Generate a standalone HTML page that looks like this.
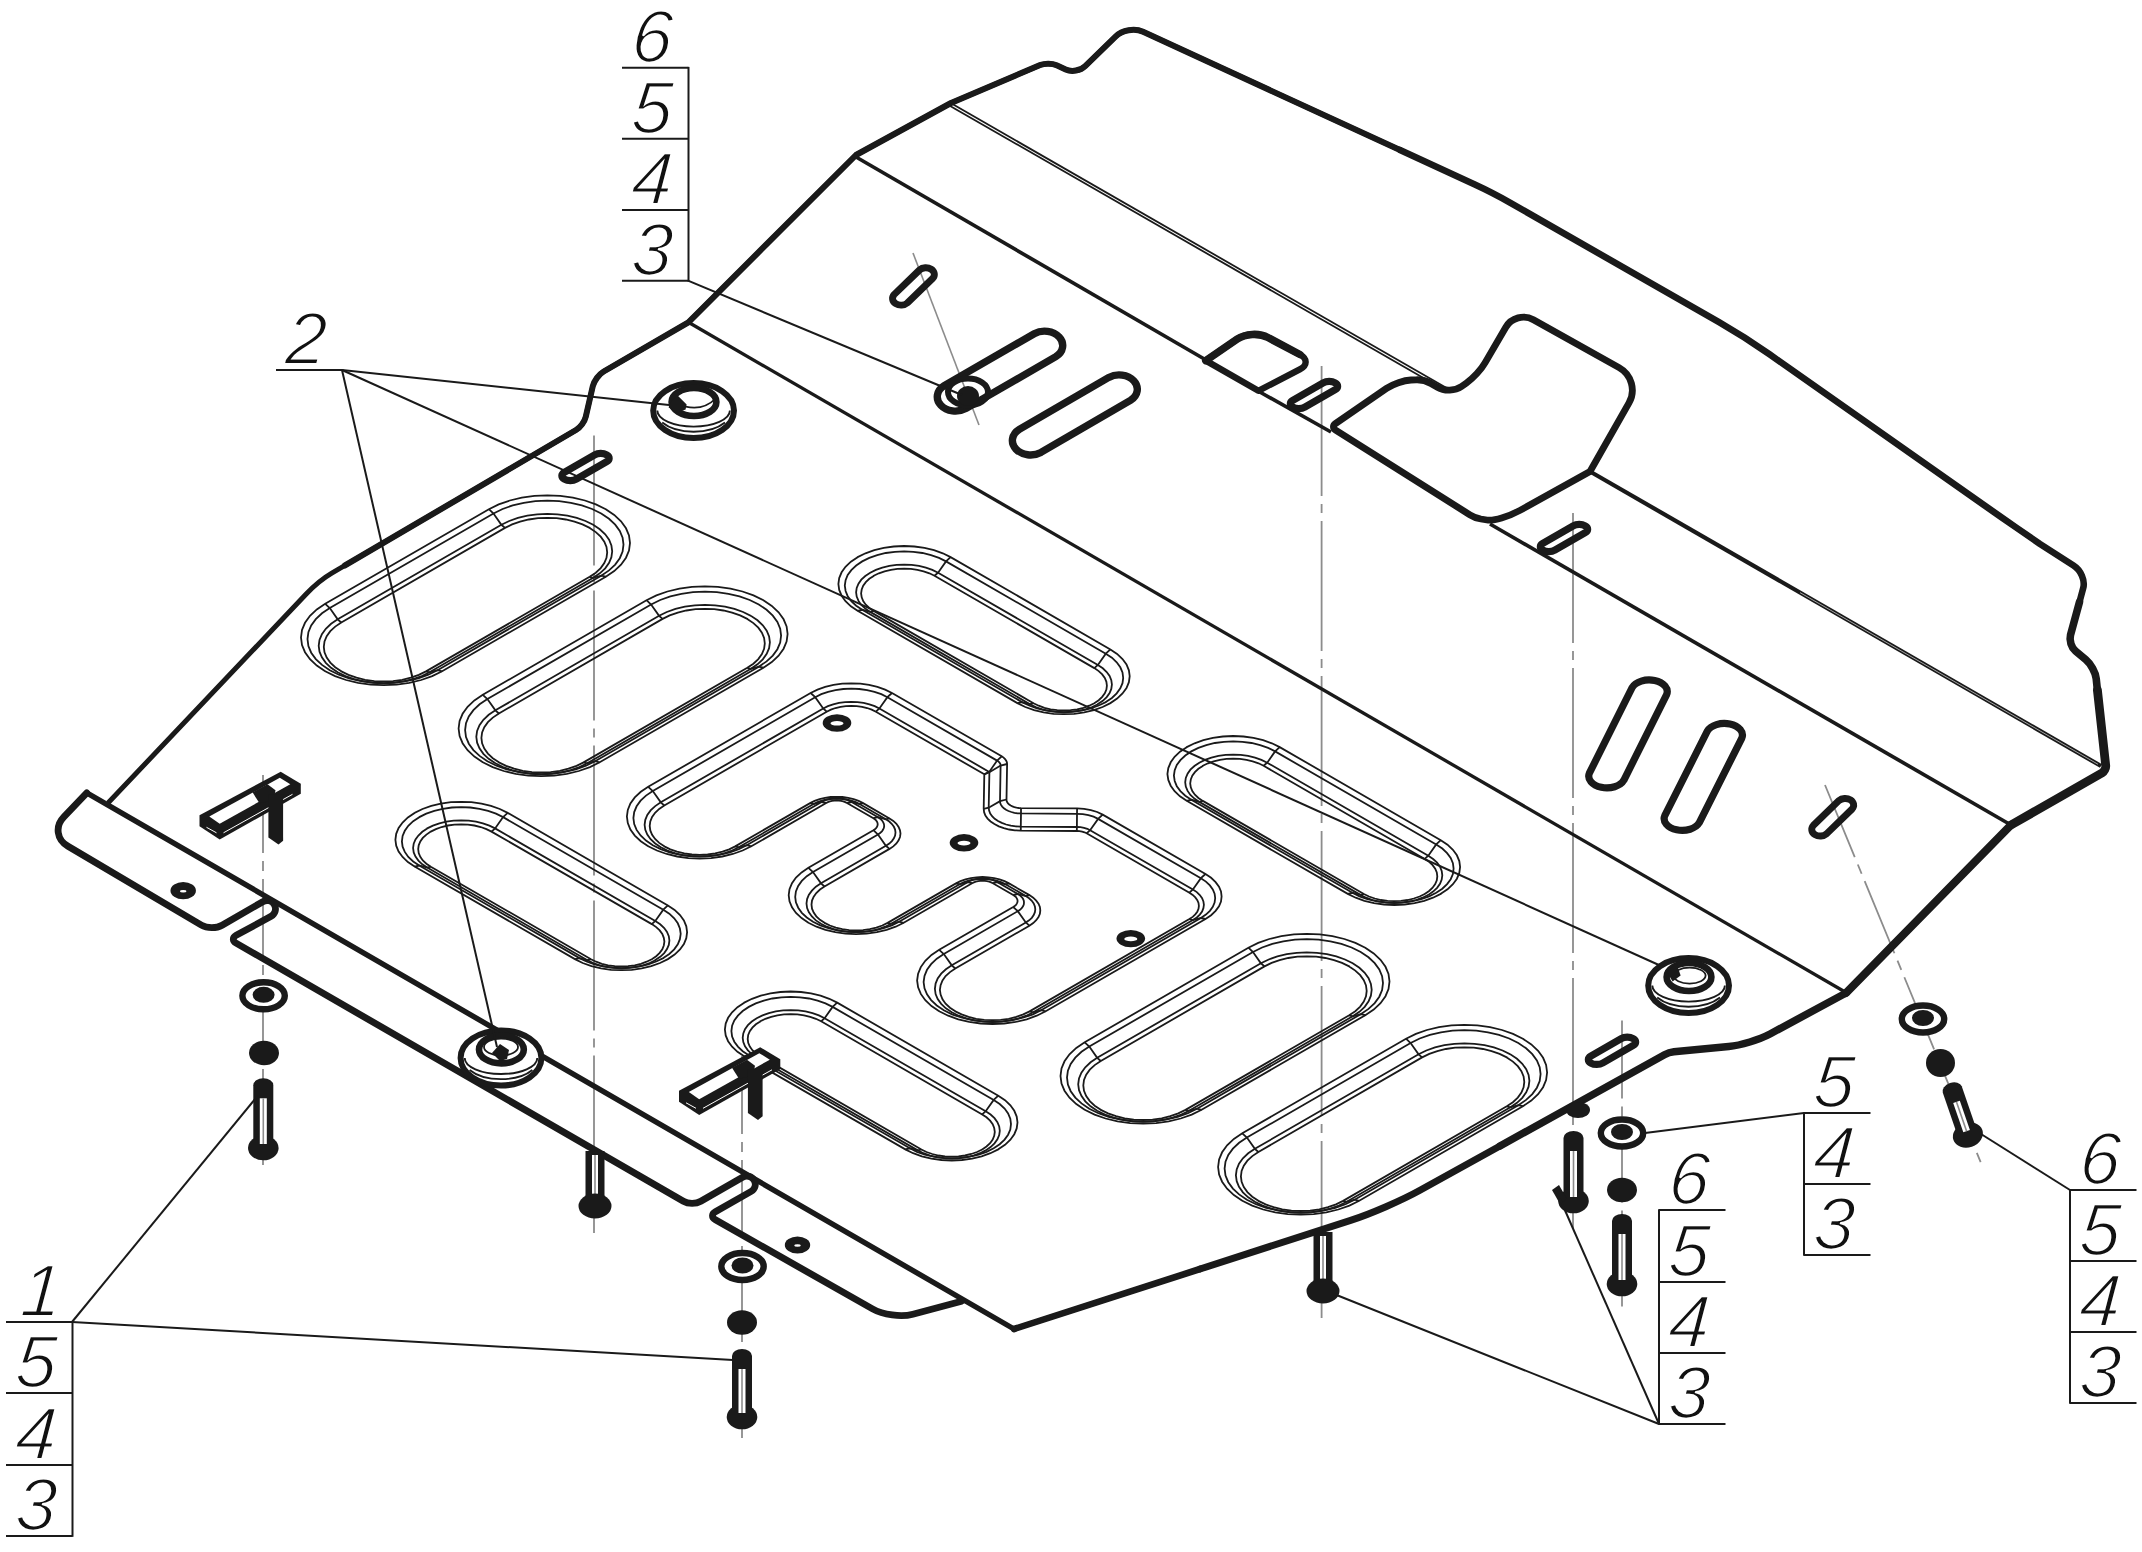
<!DOCTYPE html>
<html><head><meta charset="utf-8"><title>Drawing</title>
<style>
html,body{margin:0;padding:0;background:#fff}
svg{display:block}
text{font-family:"Liberation Sans","DejaVu Sans",sans-serif;font-style:italic;font-size:74px;text-anchor:middle;fill:#111;stroke:#fff;stroke-width:2.1px}
</style></head><body>
<svg width="2142" height="1552" viewBox="0 0 2142 1552" stroke-linecap="butt">
<rect width="2142" height="1552" fill="#fff"/>
<path d="M263 775L263 1168" fill="none" stroke="#8c8c8c" stroke-width="1.8" stroke-dasharray="78 8 10 8" stroke-dashoffset="0"/>
<path d="M594 435.5L594 1233" fill="none" stroke="#8c8c8c" stroke-width="1.8" stroke-dasharray="130 8 9 8" stroke-dashoffset="0"/>
<path d="M742 1056L742 1438" fill="none" stroke="#8c8c8c" stroke-width="1.8" stroke-dasharray="78 8 10 8" stroke-dashoffset="0"/>
<path d="M1321.6 366L1321.6 1318" fill="none" stroke="#8c8c8c" stroke-width="1.8" stroke-dasharray="130 8 9 8" stroke-dashoffset="0"/>
<path d="M1573 513L1573 1228" fill="none" stroke="#8c8c8c" stroke-width="1.8" stroke-dasharray="130 8 9 8" stroke-dashoffset="0"/>
<path d="M1622 1020.5L1622 1313" fill="none" stroke="#8c8c8c" stroke-width="1.8" stroke-dasharray="78 8 10 8" stroke-dashoffset="0"/>
<path d="M913 253L979 425" fill="none" stroke="#8c8c8c" stroke-width="1.6" />
<path d="M1825 785L1981 1163" fill="none" stroke="#8c8c8c" stroke-width="1.8" stroke-dasharray="78 8 10 8" stroke-dashoffset="0"/>
<path d="M325.2 671.2 L316.8 665.6 L310 659.2 L305 652.2 L302 645 L301 637.5 L302 630 L305 622.8 L310 615.8 L316.8 609.4 L325.2 603.8 L488.9 509.2 L498.7 504.4 L509.8 500.5 L521.8 497.6 L534.4 495.9 L547.3 495.3 L560.3 495.9 L572.9 497.6 L584.9 500.5 L595.9 504.4 L605.8 509.2 L605.8 509.3 L614.2 514.9 L621 521.3 L626 528.3 L629 535.5 L630 543 L629 550.5 L626 557.7 L621 564.7 L614.2 571.1 L605.8 576.7 L442.1 671.3 L432.2 676.1 L421.2 680 L409.2 682.9 L396.6 684.6 L383.6 685.2 L370.7 684.6 L358.1 682.9 L346.1 680 L335.1 676.1 L325.2 671.3Z" fill="none" stroke="#1a1a1a" stroke-width="1.8" />
<path d="M329.8 670.2 L322 664.9 L315.8 659.1 L311.2 652.7 L308.4 646 L307.5 639.1 L308.4 632.2 L311.2 625.5 L315.8 619.1 L322 613.3 L329.8 608 L493.5 513.5 L502.6 509 L512.7 505.4 L523.8 502.8 L535.4 501.2 L547.3 500.6 L559.2 501.2 L570.9 502.8 L581.9 505.4 L592.1 509 L601.2 513.5 L601.2 513.5 L609 518.8 L615.2 524.6 L619.8 531 L622.6 537.7 L623.5 544.6 L622.6 551.5 L619.8 558.2 L615.2 564.6 L609 570.4 L601.2 575.7 L437.5 670.2 L428.4 674.7 L418.2 678.3 L407.2 680.9 L395.6 682.5 L383.6 683.1 L371.7 682.5 L360.1 680.9 L349.1 678.3 L338.9 674.7 L329.8 670.2Z" fill="none" stroke="#1a1a1a" stroke-width="1.8" />
<path d="M337.7 672.3 L331.1 667.8 L325.8 662.8 L321.9 657.4 L319.5 651.7 L318.7 645.8 L319.5 639.9 L321.9 634.2 L325.8 628.8 L331.1 623.8 L337.7 619.3 L501.4 524.8 L509.2 521 L517.9 517.9 L527.3 515.7 L537.2 514.3 L547.3 513.8 L557.5 514.3 L567.4 515.7 L576.8 517.9 L585.5 521 L593.2 524.8 L593.2 524.8 L599.8 529.3 L605.2 534.3 L609.1 539.7 L611.4 545.4 L612.2 551.3 L611.4 557.2 L609.1 562.9 L605.2 568.3 L599.8 573.3 L593.2 577.8 L429.5 672.3 L421.8 676.1 L413.1 679.2 L403.7 681.4 L393.8 682.8 L383.6 683.3 L373.5 682.8 L363.6 681.4 L354.2 679.2 L345.5 676.1 L337.8 672.3Z" fill="none" stroke="#1a1a1a" stroke-width="1.8" />
<path d="M341.3 671.3 L335.2 667.2 L330.3 662.6 L326.7 657.6 L324.5 652.3 L323.8 646.9 L324.5 641.5 L326.7 636.2 L330.3 631.2 L335.2 626.6 L341.3 622.5 L505 527.9 L512.1 524.4 L520.1 521.6 L528.8 519.5 L538 518.2 L547.3 517.8 L556.7 518.2 L565.8 519.5 L574.5 521.6 L582.5 524.4 L589.7 527.9 L589.7 528 L595.8 532.1 L600.7 536.7 L604.3 541.7 L606.5 547 L607.2 552.4 L606.5 557.8 L604.3 563.1 L600.7 568.1 L595.8 572.7 L589.7 576.8 L426 671.4 L418.8 674.9 L410.8 677.7 L402.2 679.8 L393 681.1 L383.6 681.5 L374.3 681.1 L365.1 679.8 L356.5 677.7 L348.5 674.9 L341.3 671.4Z" fill="none" stroke="#1a1a1a" stroke-width="1.8" />
<path d="M325.2 603.8 L329.8 608 L337.7 619.3 L341.3 622.5" fill="none" stroke="#1a1a1a" stroke-width="1.8" />
<path d="M488.9 509.2 L493.5 513.5 L501.4 524.8 L505 527.9" fill="none" stroke="#1a1a1a" stroke-width="1.8" />
<path d="M605.8 576.7 L601.2 575.7 L593.2 577.8 L589.7 576.8" fill="none" stroke="#1a1a1a" stroke-width="1.8" />
<path d="M442.1 671.3 L437.5 670.2 L429.5 672.3 L426 671.4" fill="none" stroke="#1a1a1a" stroke-width="1.8" />
<path d="M482.8 762.2 L474.4 756.6 L467.6 750.2 L462.6 743.2 L459.6 736 L458.6 728.5 L459.6 721 L462.6 713.8 L467.6 706.8 L474.4 700.4 L482.8 694.8 L646.5 600.2 L656.4 595.4 L667.4 591.5 L679.4 588.6 L692 586.9 L704.9 586.3 L717.9 586.9 L730.5 588.6 L742.5 591.5 L753.5 595.4 L763.4 600.2 L763.4 600.3 L771.8 605.9 L778.6 612.3 L783.6 619.3 L786.6 626.5 L787.6 634 L786.6 641.5 L783.6 648.7 L778.6 655.7 L771.8 662.1 L763.4 667.7 L599.7 762.3 L589.9 767.1 L578.8 771 L566.8 773.9 L554.2 775.6 L541.3 776.2 L528.3 775.6 L515.7 773.9 L503.7 771 L492.7 767.1 L482.8 762.3Z" fill="none" stroke="#1a1a1a" stroke-width="1.8" />
<path d="M487.4 761.2 L479.6 755.9 L473.4 750.1 L468.8 743.7 L466 737 L465.1 730.1 L466 723.2 L468.8 716.5 L473.4 710.1 L479.6 704.3 L487.4 699 L651.1 604.5 L660.2 600 L670.4 596.4 L681.4 593.8 L693 592.2 L704.9 591.6 L716.9 592.2 L728.5 593.8 L739.5 596.4 L749.7 600 L758.8 604.5 L758.8 604.5 L766.6 609.8 L772.8 615.6 L777.4 622 L780.2 628.7 L781.1 635.6 L780.2 642.5 L777.4 649.2 L772.8 655.6 L766.6 661.4 L758.8 666.7 L595.1 761.2 L586 765.7 L575.8 769.3 L564.8 771.9 L553.2 773.5 L541.3 774.1 L529.4 773.5 L517.7 771.9 L506.7 769.3 L496.5 765.7 L487.4 761.2Z" fill="none" stroke="#1a1a1a" stroke-width="1.8" />
<path d="M495.4 763.3 L488.7 758.8 L483.4 753.8 L479.5 748.4 L477.1 742.7 L476.3 736.8 L477.1 730.9 L479.5 725.2 L483.4 719.8 L488.7 714.8 L495.4 710.3 L659.1 615.8 L666.8 612 L675.5 608.9 L684.9 606.7 L694.8 605.3 L704.9 604.8 L715.1 605.3 L725 606.7 L734.4 608.9 L743.1 612 L750.8 615.8 L750.9 615.8 L757.5 620.3 L762.8 625.3 L766.7 630.7 L769.1 636.4 L769.9 642.3 L769.1 648.2 L766.7 653.9 L762.8 659.3 L757.5 664.3 L750.9 668.8 L587.2 763.3 L579.4 767.1 L570.7 770.2 L561.3 772.4 L551.4 773.8 L541.3 774.3 L531.1 773.8 L521.2 772.4 L511.8 770.2 L503.1 767.1 L495.4 763.3Z" fill="none" stroke="#1a1a1a" stroke-width="1.8" />
<path d="M498.9 762.3 L492.8 758.2 L487.9 753.6 L484.3 748.6 L482.1 743.3 L481.4 737.9 L482.1 732.5 L484.3 727.2 L487.9 722.2 L492.8 717.6 L498.9 713.5 L662.6 618.9 L669.7 615.4 L677.8 612.6 L686.4 610.5 L695.6 609.2 L704.9 608.8 L714.3 609.2 L723.4 610.5 L732.1 612.6 L740.1 615.4 L747.3 618.9 L747.3 619 L753.4 623.1 L758.3 627.7 L761.9 632.7 L764.1 638 L764.8 643.4 L764.1 648.8 L761.9 654.1 L758.3 659.1 L753.4 663.7 L747.3 667.8 L583.6 762.4 L576.5 765.9 L568.4 768.7 L559.8 770.8 L550.6 772.1 L541.3 772.5 L531.9 772.1 L522.8 770.8 L514.1 768.7 L506.1 765.9 L498.9 762.4Z" fill="none" stroke="#1a1a1a" stroke-width="1.8" />
<path d="M482.8 694.8 L487.4 699 L495.4 710.3 L498.9 713.5" fill="none" stroke="#1a1a1a" stroke-width="1.8" />
<path d="M646.5 600.2 L651.1 604.5 L659.1 615.8 L662.6 618.9" fill="none" stroke="#1a1a1a" stroke-width="1.8" />
<path d="M763.4 667.7 L758.8 666.7 L750.9 668.8 L747.3 667.8" fill="none" stroke="#1a1a1a" stroke-width="1.8" />
<path d="M599.7 762.3 L595.1 761.2 L587.2 763.3 L583.6 762.4" fill="none" stroke="#1a1a1a" stroke-width="1.8" />
<path d="M1084.7 1109.7 L1076.3 1104.1 L1069.5 1097.7 L1064.5 1090.7 L1061.5 1083.5 L1060.5 1076 L1061.5 1068.5 L1064.5 1061.3 L1069.5 1054.3 L1076.3 1047.9 L1084.7 1042.3 L1248.4 947.7 L1258.2 942.9 L1269.3 939 L1281.3 936.1 L1293.9 934.4 L1306.8 933.8 L1319.8 934.4 L1332.4 936.1 L1344.4 939 L1355.4 942.9 L1365.3 947.7 L1365.3 947.8 L1373.7 953.4 L1380.5 959.8 L1385.5 966.8 L1388.5 974 L1389.5 981.5 L1388.5 989 L1385.5 996.2 L1380.5 1003.2 L1373.7 1009.6 L1365.3 1015.2 L1201.6 1109.8 L1191.7 1114.6 L1180.7 1118.5 L1168.7 1121.4 L1156.1 1123.1 L1143.2 1123.7 L1130.2 1123.1 L1117.6 1121.4 L1105.6 1118.5 L1094.6 1114.6 L1084.7 1109.8Z" fill="none" stroke="#1a1a1a" stroke-width="1.8" />
<path d="M1089.3 1108.7 L1081.5 1103.4 L1075.3 1097.6 L1070.7 1091.2 L1067.9 1084.5 L1067 1077.6 L1067.9 1070.7 L1070.7 1064 L1075.3 1057.6 L1081.5 1051.8 L1089.3 1046.5 L1253 952 L1262.1 947.5 L1272.3 943.9 L1283.3 941.3 L1294.9 939.7 L1306.8 939.1 L1318.7 939.7 L1330.4 941.3 L1341.4 943.9 L1351.6 947.5 L1360.7 952 L1360.7 952 L1368.5 957.3 L1374.7 963.1 L1379.3 969.5 L1382.1 976.2 L1383 983.1 L1382.1 990 L1379.3 996.7 L1374.7 1003.1 L1368.5 1008.9 L1360.7 1014.2 L1197 1108.7 L1187.9 1113.2 L1177.7 1116.8 L1166.7 1119.4 L1155.1 1121 L1143.2 1121.6 L1131.2 1121 L1119.6 1119.4 L1108.6 1116.8 L1098.4 1113.2 L1089.3 1108.7Z" fill="none" stroke="#1a1a1a" stroke-width="1.8" />
<path d="M1097.2 1110.8 L1090.6 1106.3 L1085.3 1101.3 L1081.4 1095.9 L1079 1090.2 L1078.2 1084.3 L1079 1078.4 L1081.4 1072.7 L1085.3 1067.3 L1090.6 1062.3 L1097.2 1057.8 L1260.9 963.3 L1268.7 959.5 L1277.4 956.4 L1286.8 954.2 L1296.7 952.8 L1306.8 952.3 L1317 952.8 L1326.9 954.2 L1336.3 956.4 L1345 959.5 L1352.7 963.3 L1352.7 963.3 L1359.4 967.8 L1364.7 972.8 L1368.6 978.2 L1370.9 983.9 L1371.7 989.8 L1370.9 995.7 L1368.6 1001.4 L1364.7 1006.8 L1359.4 1011.8 L1352.7 1016.3 L1189 1110.8 L1181.3 1114.6 L1172.6 1117.7 L1163.2 1119.9 L1153.3 1121.3 L1143.2 1121.8 L1133 1121.3 L1123.1 1119.9 L1113.7 1117.7 L1105 1114.6 L1097.3 1110.8Z" fill="none" stroke="#1a1a1a" stroke-width="1.8" />
<path d="M1100.8 1109.8 L1094.7 1105.7 L1089.8 1101.1 L1086.2 1096.1 L1084 1090.8 L1083.3 1085.4 L1084 1080 L1086.2 1074.7 L1089.8 1069.7 L1094.7 1065.1 L1100.8 1061 L1264.5 966.4 L1271.6 962.9 L1279.6 960.1 L1288.3 958 L1297.5 956.7 L1306.8 956.3 L1316.2 956.7 L1325.3 958 L1334 960.1 L1342 962.9 L1349.2 966.4 L1349.2 966.5 L1355.3 970.6 L1360.2 975.2 L1363.8 980.2 L1366 985.5 L1366.7 990.9 L1366 996.3 L1363.8 1001.6 L1360.2 1006.6 L1355.3 1011.2 L1349.2 1015.3 L1185.5 1109.9 L1178.3 1113.4 L1170.3 1116.2 L1161.7 1118.3 L1152.5 1119.6 L1143.2 1120 L1133.8 1119.6 L1124.7 1118.3 L1116 1116.2 L1108 1113.4 L1100.8 1109.9Z" fill="none" stroke="#1a1a1a" stroke-width="1.8" />
<path d="M1084.7 1042.3 L1089.3 1046.5 L1097.2 1057.8 L1100.8 1061" fill="none" stroke="#1a1a1a" stroke-width="1.8" />
<path d="M1248.4 947.7 L1253 952 L1260.9 963.3 L1264.5 966.4" fill="none" stroke="#1a1a1a" stroke-width="1.8" />
<path d="M1365.3 1015.2 L1360.7 1014.2 L1352.7 1016.3 L1349.2 1015.3" fill="none" stroke="#1a1a1a" stroke-width="1.8" />
<path d="M1201.6 1109.8 L1197 1108.7 L1189 1110.8 L1185.5 1109.9" fill="none" stroke="#1a1a1a" stroke-width="1.8" />
<path d="M1242.3 1200.7 L1233.9 1195.1 L1227.1 1188.7 L1222.1 1181.7 L1219.1 1174.5 L1218.1 1167 L1219.1 1159.5 L1222.1 1152.3 L1227.1 1145.3 L1233.9 1138.9 L1242.3 1133.3 L1406 1038.7 L1415.9 1033.9 L1426.9 1030 L1438.9 1027.1 L1451.5 1025.4 L1464.4 1024.8 L1477.4 1025.4 L1490 1027.1 L1502 1030 L1513 1033.9 L1522.9 1038.7 L1522.9 1038.8 L1531.3 1044.4 L1538.1 1050.8 L1543.1 1057.8 L1546.1 1065 L1547.1 1072.5 L1546.1 1080 L1543.1 1087.2 L1538.1 1094.2 L1531.3 1100.6 L1522.9 1106.2 L1359.2 1200.8 L1349.4 1205.6 L1338.3 1209.5 L1326.3 1212.4 L1313.7 1214.1 L1300.8 1214.7 L1287.8 1214.1 L1275.2 1212.4 L1263.2 1209.5 L1252.2 1205.6 L1242.3 1200.8Z" fill="none" stroke="#1a1a1a" stroke-width="1.8" />
<path d="M1246.9 1199.7 L1239.1 1194.4 L1232.9 1188.6 L1228.3 1182.2 L1225.5 1175.5 L1224.6 1168.6 L1225.5 1161.7 L1228.3 1155 L1232.9 1148.6 L1239.1 1142.8 L1246.9 1137.5 L1410.6 1043 L1419.7 1038.5 L1429.9 1034.9 L1440.9 1032.3 L1452.5 1030.7 L1464.4 1030.1 L1476.4 1030.7 L1488 1032.3 L1499 1034.9 L1509.2 1038.5 L1518.3 1043 L1518.3 1043 L1526.1 1048.3 L1532.3 1054.1 L1536.9 1060.5 L1539.7 1067.2 L1540.6 1074.1 L1539.7 1081 L1536.9 1087.7 L1532.3 1094.1 L1526.1 1099.9 L1518.3 1105.2 L1354.6 1199.7 L1345.5 1204.2 L1335.3 1207.8 L1324.3 1210.4 L1312.7 1212 L1300.8 1212.6 L1288.9 1212 L1277.2 1210.4 L1266.2 1207.8 L1256 1204.2 L1246.9 1199.7Z" fill="none" stroke="#1a1a1a" stroke-width="1.8" />
<path d="M1254.9 1201.8 L1248.2 1197.3 L1242.9 1192.3 L1239 1186.9 L1236.7 1181.2 L1235.9 1175.3 L1236.7 1169.4 L1239 1163.7 L1242.9 1158.3 L1248.2 1153.3 L1254.9 1148.8 L1418.6 1054.3 L1426.3 1050.5 L1435 1047.4 L1444.4 1045.2 L1454.3 1043.8 L1464.4 1043.3 L1474.6 1043.8 L1484.5 1045.2 L1493.9 1047.4 L1502.6 1050.5 L1510.3 1054.3 L1510.4 1054.3 L1517 1058.8 L1522.3 1063.8 L1526.2 1069.2 L1528.6 1074.9 L1529.4 1080.8 L1528.6 1086.7 L1526.2 1092.4 L1522.3 1097.8 L1517 1102.8 L1510.4 1107.3 L1346.7 1201.8 L1338.9 1205.6 L1330.2 1208.7 L1320.8 1210.9 L1310.9 1212.3 L1300.8 1212.8 L1290.6 1212.3 L1280.7 1210.9 L1271.3 1208.7 L1262.6 1205.6 L1254.9 1201.8Z" fill="none" stroke="#1a1a1a" stroke-width="1.8" />
<path d="M1258.4 1200.8 L1252.3 1196.7 L1247.4 1192.1 L1243.8 1187.1 L1241.6 1181.8 L1240.9 1176.4 L1241.6 1171 L1243.8 1165.7 L1247.4 1160.7 L1252.3 1156.1 L1258.4 1152 L1422.1 1057.4 L1429.3 1053.9 L1437.3 1051.1 L1445.9 1049 L1455.1 1047.7 L1464.4 1047.3 L1473.8 1047.7 L1483 1049 L1491.6 1051.1 L1499.6 1053.9 L1506.8 1057.4 L1506.8 1057.5 L1512.9 1061.6 L1517.8 1066.2 L1521.4 1071.2 L1523.6 1076.5 L1524.3 1081.9 L1523.6 1087.3 L1521.4 1092.6 L1517.8 1097.6 L1512.9 1102.2 L1506.8 1106.3 L1343.1 1200.9 L1336 1204.4 L1328 1207.2 L1319.3 1209.3 L1310.1 1210.6 L1300.8 1211 L1291.4 1210.6 L1282.3 1209.3 L1273.6 1207.2 L1265.6 1204.4 L1258.4 1200.9Z" fill="none" stroke="#1a1a1a" stroke-width="1.8" />
<path d="M1242.3 1133.3 L1246.9 1137.5 L1254.9 1148.8 L1258.4 1152" fill="none" stroke="#1a1a1a" stroke-width="1.8" />
<path d="M1406 1038.7 L1410.6 1043 L1418.6 1054.3 L1422.1 1057.4" fill="none" stroke="#1a1a1a" stroke-width="1.8" />
<path d="M1522.9 1106.2 L1518.3 1105.2 L1510.4 1107.3 L1506.8 1106.3" fill="none" stroke="#1a1a1a" stroke-width="1.8" />
<path d="M1359.2 1200.8 L1354.6 1199.7 L1346.7 1201.8 L1343.1 1200.9" fill="none" stroke="#1a1a1a" stroke-width="1.8" />
<path d="M414.6 866.6 L407.9 862.1 L402.6 857 L398.6 851.5 L396.2 845.7 L395.4 839.8 L396.2 833.8 L398.6 828 L402.6 822.5 L407.9 817.4 L414.6 812.9 L414.7 812.9 L422.5 809 L431.3 805.9 L440.8 803.6 L450.9 802.2 L461.2 801.8 L471.4 802.2 L481.5 803.6 L491 805.9 L499.8 809 L507.7 812.9 L667.9 905.4 L674.6 909.9 L680 915 L683.9 920.5 L686.3 926.3 L687.1 932.2 L686.3 938.2 L683.9 944 L680 949.5 L674.6 954.6 L667.9 959.1 L667.9 959.1 L660 963 L651.2 966.1 L641.7 968.4 L631.7 969.8 L621.4 970.2 L611.1 969.8 L601.1 968.4 L591.5 966.1 L582.7 963 L574.9 959.1Z" fill="none" stroke="#1a1a1a" stroke-width="1.8" />
<path d="M419.2 865.5 L413.2 861.5 L408.3 856.9 L404.8 851.9 L402.6 846.7 L401.9 841.4 L402.6 836 L404.8 830.8 L408.3 825.8 L413.2 821.2 L419.2 817.2 L419.3 817.1 L426.3 813.7 L434.3 810.9 L442.8 808.8 L451.9 807.5 L461.2 807.1 L470.4 807.5 L479.5 808.8 L488.1 810.9 L496 813.7 L503.1 817.1 L663.3 909.7 L669.3 913.7 L674.2 918.3 L677.8 923.3 L679.9 928.5 L680.7 933.8 L679.9 939.2 L677.8 944.4 L674.2 949.4 L669.3 954 L663.3 958 L663.3 958.1 L656.2 961.5 L648.3 964.3 L639.7 966.4 L630.6 967.7 L621.4 968.1 L612.1 967.7 L603.1 966.4 L594.5 964.3 L586.5 961.5 L579.5 958.1Z" fill="none" stroke="#1a1a1a" stroke-width="1.8" />
<path d="M427.2 867.6 L422.3 864.3 L418.4 860.6 L415.5 856.6 L413.7 852.4 L413.1 848 L413.7 843.7 L415.5 839.5 L418.4 835.5 L422.3 831.8 L427.2 828.5 L427.2 828.4 L432.9 825.6 L439.4 823.3 L446.3 821.7 L453.7 820.7 L461.2 820.3 L468.7 820.7 L476 821.7 L482.9 823.3 L489.4 825.6 L495.1 828.4 L655.3 921 L660.2 924.3 L664.2 928 L667 932 L668.8 936.2 L669.4 940.5 L668.8 944.9 L667 949.1 L664.2 953.1 L660.2 956.8 L655.3 960.1 L655.3 960.2 L649.6 963 L643.2 965.3 L636.2 966.9 L628.9 967.9 L621.4 968.3 L613.9 967.9 L606.5 966.9 L599.6 965.3 L593.2 963 L587.4 960.2Z" fill="none" stroke="#1a1a1a" stroke-width="1.8" />
<path d="M430.8 866.7 L426.4 863.7 L422.8 860.4 L420.3 856.8 L418.7 853 L418.2 849.1 L418.7 845.3 L420.3 841.5 L422.8 837.9 L426.4 834.6 L430.8 831.6 L430.8 831.6 L435.9 829.1 L441.6 827 L447.9 825.5 L454.4 824.6 L461.2 824.3 L467.9 824.6 L474.4 825.5 L480.7 827 L486.4 829.1 L491.5 831.6 L651.8 924.1 L656.2 927.1 L659.7 930.4 L662.3 934 L663.8 937.8 L664.4 941.6 L663.8 945.5 L662.3 949.3 L659.7 952.9 L656.2 956.2 L651.8 959.2 L651.8 959.2 L646.6 961.7 L640.9 963.8 L634.7 965.3 L628.1 966.2 L621.4 966.5 L614.7 966.2 L608.1 965.3 L601.9 963.8 L596.1 961.7 L591 959.2Z" fill="none" stroke="#1a1a1a" stroke-width="1.8" />
<path d="M414.6 866.6 L419.2 865.5 L427.2 867.6 L430.8 866.7" fill="none" stroke="#1a1a1a" stroke-width="1.8" />
<path d="M507.7 812.9 L503.1 817.1 L495.1 828.4 L491.5 831.6" fill="none" stroke="#1a1a1a" stroke-width="1.8" />
<path d="M667.9 905.4 L663.3 909.7 L655.3 921 L651.8 924.1" fill="none" stroke="#1a1a1a" stroke-width="1.8" />
<path d="M574.9 959.1 L579.5 958.1 L587.4 960.2 L591 959.2" fill="none" stroke="#1a1a1a" stroke-width="1.8" />
<path d="M744.2 1056.3 L737.5 1051.8 L732.1 1046.7 L728.1 1041.2 L725.7 1035.4 L724.9 1029.5 L725.7 1023.6 L728.1 1017.8 L732.1 1012.3 L737.5 1007.2 L744.2 1002.7 L744.2 1002.6 L752 998.8 L760.8 995.7 L770.4 993.4 L780.4 992 L790.7 991.5 L801 992 L811 993.4 L820.5 995.7 L829.3 998.8 L837.2 1002.6 L998.3 1095.7 L1005 1100.2 L1010.4 1105.3 L1014.3 1110.8 L1016.7 1116.6 L1017.5 1122.5 L1016.7 1128.4 L1014.3 1134.2 L1010.4 1139.7 L1005 1144.8 L998.3 1149.3 L998.3 1149.4 L990.4 1153.2 L981.6 1156.3 L972.1 1158.6 L962 1160 L951.8 1160.5 L941.5 1160 L931.4 1158.6 L921.9 1156.3 L913.1 1153.2 L905.3 1149.4Z" fill="none" stroke="#1a1a1a" stroke-width="1.8" />
<path d="M748.8 1055.3 L742.7 1051.2 L737.9 1046.6 L734.3 1041.7 L732.1 1036.5 L731.4 1031.1 L732.1 1025.7 L734.3 1020.5 L737.9 1015.6 L742.7 1011 L748.8 1006.9 L748.8 1006.9 L755.8 1003.4 L763.8 1000.6 L772.4 998.5 L781.4 997.3 L790.7 996.9 L800 997.3 L809 998.5 L817.6 1000.6 L825.5 1003.4 L832.6 1006.9 L993.7 1099.9 L999.7 1104 L1004.6 1108.6 L1008.1 1113.5 L1010.3 1118.7 L1011 1124.1 L1010.3 1129.5 L1008.1 1134.7 L1004.6 1139.6 L999.7 1144.2 L993.7 1148.3 L993.7 1148.3 L986.6 1151.8 L978.7 1154.6 L970.1 1156.7 L961 1157.9 L951.8 1158.3 L942.5 1157.9 L933.4 1156.7 L924.9 1154.6 L916.9 1151.8 L909.9 1148.3Z" fill="none" stroke="#1a1a1a" stroke-width="1.8" />
<path d="M756.7 1057.4 L751.8 1054.1 L747.9 1050.4 L745 1046.4 L743.3 1042.1 L742.7 1037.8 L743.3 1033.5 L745 1029.2 L747.9 1025.2 L751.8 1021.5 L756.7 1018.2 L756.7 1018.2 L762.5 1015.4 L768.9 1013.1 L775.8 1011.4 L783.2 1010.4 L790.7 1010.1 L798.2 1010.4 L805.5 1011.4 L812.5 1013.1 L818.9 1015.4 L824.6 1018.2 L985.7 1111.2 L990.6 1114.5 L994.5 1118.2 L997.4 1122.2 L999.2 1126.5 L999.8 1130.8 L999.2 1135.1 L997.4 1139.4 L994.5 1143.4 L990.6 1147.1 L985.7 1150.4 L985.7 1150.4 L980 1153.2 L973.6 1155.5 L966.6 1157.2 L959.3 1158.2 L951.8 1158.5 L944.3 1158.2 L936.9 1157.2 L930 1155.5 L923.5 1153.2 L917.8 1150.4Z" fill="none" stroke="#1a1a1a" stroke-width="1.8" />
<path d="M760.3 1056.4 L755.9 1053.5 L752.4 1050.2 L749.8 1046.6 L748.2 1042.8 L747.7 1038.9 L748.2 1035 L749.8 1031.2 L752.4 1027.6 L755.9 1024.3 L760.3 1021.4 L760.3 1021.3 L765.4 1018.8 L771.2 1016.8 L777.4 1015.3 L784 1014.4 L790.7 1014.1 L797.4 1014.4 L804 1015.3 L810.2 1016.8 L815.9 1018.8 L821.1 1021.3 L982.2 1114.4 L986.5 1117.3 L990.1 1120.6 L992.7 1124.2 L994.2 1128 L994.8 1131.9 L994.2 1135.8 L992.7 1139.6 L990.1 1143.2 L986.5 1146.5 L982.2 1149.4 L982.2 1149.5 L977 1152 L971.3 1154 L965 1155.5 L958.5 1156.4 L951.8 1156.7 L945 1156.4 L938.5 1155.5 L932.3 1154 L926.5 1152 L921.4 1149.5Z" fill="none" stroke="#1a1a1a" stroke-width="1.8" />
<path d="M744.2 1056.3 L748.8 1055.3 L756.7 1057.4 L760.3 1056.4" fill="none" stroke="#1a1a1a" stroke-width="1.8" />
<path d="M837.2 1002.6 L832.6 1006.9 L824.6 1018.2 L821.1 1021.3" fill="none" stroke="#1a1a1a" stroke-width="1.8" />
<path d="M998.3 1095.7 L993.7 1099.9 L985.7 1111.2 L982.2 1114.4" fill="none" stroke="#1a1a1a" stroke-width="1.8" />
<path d="M905.3 1149.4 L909.9 1148.3 L917.8 1150.4 L921.4 1149.5" fill="none" stroke="#1a1a1a" stroke-width="1.8" />
<path d="M857.6 610.8 L850.9 606.3 L845.5 601.2 L841.6 595.7 L839.2 589.9 L838.4 584 L839.2 578.1 L841.6 572.3 L845.5 566.8 L850.9 561.7 L857.6 557.2 L857.6 557.1 L865.5 553.3 L874.3 550.2 L883.8 547.9 L893.8 546.5 L904.1 546 L914.4 546.5 L924.5 547.9 L934 550.2 L942.8 553.3 L950.6 557.1 L1110.4 649.4 L1117.1 653.9 L1122.5 659 L1126.5 664.5 L1128.9 670.3 L1129.7 676.2 L1128.9 682.2 L1126.5 688 L1122.5 693.5 L1117.1 698.6 L1110.4 703.1 L1110.4 703.1 L1102.6 707 L1093.8 710.1 L1084.2 712.4 L1074.2 713.8 L1063.9 714.2 L1053.6 713.8 L1043.6 712.4 L1034.1 710.1 L1025.3 707 L1017.4 703.1Z" fill="none" stroke="#1a1a1a" stroke-width="1.8" />
<path d="M862.2 609.8 L856.2 605.7 L851.3 601.1 L847.7 596.2 L845.6 591 L844.8 585.6 L845.6 580.2 L847.7 575 L851.3 570.1 L856.2 565.5 L862.2 561.4 L862.2 561.4 L869.3 557.9 L877.2 555.1 L885.8 553 L894.9 551.8 L904.1 551.4 L913.4 551.8 L922.4 553 L931 555.1 L939 557.9 L946 561.4 L1105.8 653.7 L1111.9 657.7 L1116.7 662.3 L1120.3 667.3 L1122.5 672.5 L1123.2 677.9 L1122.5 683.2 L1120.3 688.4 L1116.7 693.4 L1111.9 698 L1105.8 702 L1105.8 702.1 L1098.7 705.5 L1090.8 708.3 L1082.2 710.4 L1073.2 711.7 L1063.9 712.1 L1054.6 711.7 L1045.6 710.4 L1037 708.3 L1029.1 705.5 L1022 702.1Z" fill="none" stroke="#1a1a1a" stroke-width="1.8" />
<path d="M870.2 611.9 L865.3 608.6 L861.3 604.9 L858.5 600.9 L856.7 596.6 L856.1 592.3 L856.7 588 L858.5 583.7 L861.3 579.7 L865.3 576 L870.2 572.7 L870.2 572.7 L875.9 569.9 L882.3 567.6 L889.3 565.9 L896.6 564.9 L904.1 564.6 L911.6 564.9 L919 565.9 L925.9 567.6 L932.3 569.9 L938.1 572.7 L1097.9 665 L1102.8 668.3 L1106.7 672 L1109.6 676 L1111.3 680.2 L1111.9 684.5 L1111.3 688.9 L1109.6 693.1 L1106.7 697.1 L1102.8 700.8 L1097.9 704.1 L1097.9 704.2 L1092.1 707 L1085.7 709.3 L1078.7 710.9 L1071.4 711.9 L1063.9 712.3 L1056.4 711.9 L1049.1 710.9 L1042.1 709.3 L1035.7 707 L1030 704.2Z" fill="none" stroke="#1a1a1a" stroke-width="1.8" />
<path d="M873.7 610.9 L869.3 608 L865.8 604.7 L863.2 601.1 L861.7 597.3 L861.1 593.4 L861.7 589.5 L863.2 585.7 L865.8 582.1 L869.3 578.8 L873.7 575.9 L873.7 575.8 L878.9 573.3 L884.6 571.3 L890.9 569.8 L897.4 568.9 L904.1 568.6 L910.9 568.9 L917.4 569.8 L923.6 571.3 L929.4 573.3 L934.5 575.8 L1094.3 668.1 L1098.7 671.1 L1102.2 674.4 L1104.8 678 L1106.4 681.8 L1106.9 685.7 L1106.4 689.5 L1104.8 693.3 L1102.2 696.9 L1098.7 700.2 L1094.3 703.2 L1094.3 703.2 L1089.2 705.7 L1083.4 707.8 L1077.2 709.3 L1070.6 710.2 L1063.9 710.5 L1057.2 710.2 L1050.6 709.3 L1044.4 707.8 L1038.7 705.7 L1033.5 703.2Z" fill="none" stroke="#1a1a1a" stroke-width="1.8" />
<path d="M857.6 610.8 L862.2 609.8 L870.2 611.9 L873.7 610.9" fill="none" stroke="#1a1a1a" stroke-width="1.8" />
<path d="M950.6 557.1 L946 561.4 L938.1 572.7 L934.5 575.8" fill="none" stroke="#1a1a1a" stroke-width="1.8" />
<path d="M1110.4 649.4 L1105.8 653.7 L1097.9 665 L1094.3 668.1" fill="none" stroke="#1a1a1a" stroke-width="1.8" />
<path d="M1017.4 703.1 L1022 702.1 L1030 704.2 L1033.5 703.2" fill="none" stroke="#1a1a1a" stroke-width="1.8" />
<path d="M1186.7 800.8 L1180 796.3 L1174.6 791.2 L1170.7 785.7 L1168.3 779.9 L1167.4 774 L1168.3 768.1 L1170.7 762.3 L1174.6 756.8 L1180 751.7 L1186.7 747.2 L1186.7 747.1 L1194.6 743.3 L1203.4 740.2 L1212.9 737.9 L1222.9 736.5 L1233.2 736 L1243.5 736.5 L1253.5 737.9 L1263.1 740.2 L1271.9 743.3 L1279.7 747.1 L1440.8 840.2 L1447.5 844.7 L1452.9 849.8 L1456.9 855.3 L1459.3 861.1 L1460.1 867 L1459.3 872.9 L1456.9 878.7 L1452.9 884.2 L1447.5 889.3 L1440.8 893.8 L1440.8 893.9 L1433 897.7 L1424.2 900.8 L1414.6 903.1 L1404.6 904.5 L1394.3 905 L1384 904.5 L1374 903.1 L1364.4 900.8 L1355.7 897.7 L1347.8 893.9Z" fill="none" stroke="#1a1a1a" stroke-width="1.8" />
<path d="M1191.3 799.8 L1185.3 795.7 L1180.4 791.1 L1176.8 786.2 L1174.7 781 L1173.9 775.6 L1174.7 770.2 L1176.8 765 L1180.4 760.1 L1185.3 755.5 L1191.3 751.4 L1191.3 751.4 L1198.4 747.9 L1206.3 745.1 L1214.9 743 L1223.9 741.8 L1233.2 741.4 L1242.5 741.8 L1251.5 743 L1260.1 745.1 L1268.1 747.9 L1275.1 751.4 L1436.2 844.4 L1442.3 848.5 L1447.1 853.1 L1450.7 858 L1452.9 863.2 L1453.6 868.6 L1452.9 874 L1450.7 879.2 L1447.1 884.1 L1442.3 888.7 L1436.2 892.8 L1436.2 892.8 L1429.1 896.3 L1421.2 899.1 L1412.6 901.2 L1403.6 902.4 L1394.3 902.8 L1385 902.4 L1376 901.2 L1367.4 899.1 L1359.5 896.3 L1352.4 892.8Z" fill="none" stroke="#1a1a1a" stroke-width="1.8" />
<path d="M1199.3 801.9 L1194.4 798.6 L1190.4 794.9 L1187.6 790.9 L1185.8 786.6 L1185.2 782.3 L1185.8 778 L1187.6 773.7 L1190.4 769.7 L1194.4 766 L1199.3 762.7 L1199.3 762.7 L1205 759.9 L1211.4 757.6 L1218.4 755.9 L1225.7 754.9 L1233.2 754.6 L1240.7 754.9 L1248.1 755.9 L1255 757.6 L1261.4 759.9 L1267.2 762.7 L1428.3 855.7 L1433.1 859 L1437.1 862.7 L1440 866.7 L1441.7 871 L1442.3 875.3 L1441.7 879.6 L1440 883.9 L1437.1 887.9 L1433.1 891.6 L1428.3 894.9 L1428.2 894.9 L1422.5 897.7 L1416.1 900 L1409.1 901.7 L1401.8 902.7 L1394.3 903 L1386.8 902.7 L1379.5 901.7 L1372.5 900 L1366.1 897.7 L1360.4 894.9Z" fill="none" stroke="#1a1a1a" stroke-width="1.8" />
<path d="M1202.8 800.9 L1198.4 798 L1194.9 794.7 L1192.3 791.1 L1190.8 787.3 L1190.2 783.4 L1190.8 779.5 L1192.3 775.7 L1194.9 772.1 L1198.4 768.8 L1202.8 765.9 L1202.8 765.8 L1208 763.3 L1213.7 761.3 L1219.9 759.8 L1226.5 758.9 L1233.2 758.6 L1239.9 758.9 L1246.5 759.8 L1252.7 761.3 L1258.5 763.3 L1263.6 765.8 L1424.7 858.9 L1429.1 861.8 L1432.6 865.1 L1435.2 868.7 L1436.8 872.5 L1437.3 876.4 L1436.8 880.3 L1435.2 884.1 L1432.6 887.7 L1429.1 891 L1424.7 893.9 L1424.7 894 L1419.6 896.5 L1413.8 898.5 L1407.6 900 L1401 900.9 L1394.3 901.2 L1387.6 900.9 L1381 900 L1374.8 898.5 L1369 896.5 L1363.9 894Z" fill="none" stroke="#1a1a1a" stroke-width="1.8" />
<path d="M1186.7 800.8 L1191.3 799.8 L1199.3 801.9 L1202.8 800.9" fill="none" stroke="#1a1a1a" stroke-width="1.8" />
<path d="M1279.7 747.1 L1275.1 751.4 L1267.2 762.7 L1263.6 765.8" fill="none" stroke="#1a1a1a" stroke-width="1.8" />
<path d="M1440.8 840.2 L1436.2 844.4 L1428.3 855.7 L1424.7 858.9" fill="none" stroke="#1a1a1a" stroke-width="1.8" />
<path d="M1347.8 893.9 L1352.4 892.8 L1360.4 894.9 L1363.9 894" fill="none" stroke="#1a1a1a" stroke-width="1.8" />
<path d="M648.2 846.2 L640.8 841.2 L634.8 835.6 L630.4 829.5 L627.8 823.1 L626.9 816.5 L627.8 809.9 L630.4 803.5 L634.8 797.4 L640.8 791.8 L648.2 786.8 L810.6 693 L817.5 689.6 L825.2 686.9 L833.5 684.9 L842.3 683.7 L851.3 683.3 L860.3 683.7 L869.1 684.9 L877.4 686.9 L885.1 689.6 L892 693 L1001.7 756.3 L1003.6 757.6 L1005.1 759.1 L1006.2 760.6 L1006.9 762.3 L1007.1 764 L1006.5 799.5 L1006.6 800.8 L1007.1 802.1 L1008 803.4 L1009.2 804.5 L1010.7 805.5 L1012.4 806.4 L1014.4 807.1 L1016.5 807.6 L1018.7 808 L1021 808.1 L1077.1 808.4 L1084.1 808.9 L1090.9 810.1 L1097.2 812 L1102.7 814.6 L1205.5 874 L1211.1 877.8 L1215.6 882.1 L1219 886.7 L1221 891.5 L1221.6 896.5 L1221 901.5 L1219 906.3 L1215.6 910.9 L1211.1 915.2 L1205.5 919 L1045.7 1011.3 L1036.7 1015.7 L1026.7 1019.3 L1015.7 1021.9 L1004.2 1023.5 L992.5 1024 L980.7 1023.5 L969.2 1021.9 L958.3 1019.3 L948.2 1015.7 L939.2 1011.3 L939.2 1011.2 L931.5 1006.1 L925.3 1000.2 L920.8 993.9 L918.1 987.3 L917.1 980.5 L918.1 973.7 L920.8 967.1 L925.3 960.8 L931.5 954.9 L939.2 949.8 L1013.2 907 L1014.7 906 L1016 904.9 L1016.8 903.6 L1017.4 902.3 L1017.6 901 L1017.4 899.7 L1016.8 898.4 L1016 897.1 L1014.7 896 L1013.2 895 L992.9 883.2 L991.1 882.4 L989.2 881.7 L987 881.2 L984.8 880.9 L982.5 880.8 L980.2 880.9 L978 881.2 L975.8 881.7 L973.9 882.4 L972.1 883.2 L903.7 922.8 L895.7 926.7 L886.6 929.9 L876.9 932.2 L866.6 933.7 L856.1 934.1 L845.5 933.7 L835.3 932.2 L825.5 929.9 L816.5 926.7 L808.4 922.8 L808.4 922.7 L801.6 918.1 L796 912.9 L792 907.3 L789.5 901.3 L788.7 895.2 L789.5 889.2 L792 883.2 L796 877.6 L801.6 872.4 L808.4 867.8 L873.4 830.2 L874.9 829.2 L876.1 828.1 L877 826.9 L877.5 825.6 L877.7 824.2 L877.5 822.9 L877 821.6 L876.1 820.4 L874.9 819.3 L873.4 818.2 L847 803 L845.2 802.1 L843.3 801.4 L841.1 800.9 L838.9 800.6 L836.6 800.5 L834.3 800.6 L832 800.9 L829.9 801.4 L827.9 802.1 L826.2 803 L751.3 846.3 L742.6 850.5 L732.8 854 L722.3 856.5 L711.1 858.1 L699.7 858.6 L688.4 858.1 L677.2 856.5 L666.7 854 L656.9 850.5 L648.2 846.3Z" fill="none" stroke="#1a1a1a" stroke-width="1.8" />
<path d="M652.8 845.2 L646 840.6 L640.6 835.5 L636.6 829.9 L634.2 824.1 L633.4 818.1 L634.2 812.1 L636.6 806.3 L640.6 800.7 L646 795.6 L652.8 791 L815.2 697.2 L821.3 694.2 L828.1 691.8 L835.5 690.1 L843.3 689 L851.3 688.6 L859.3 689 L867.1 690.1 L874.5 691.8 L881.3 694.2 L887.4 697.2 L997.1 760.6 L998.4 761.4 L999.3 762.4 L1000.1 763.4 L1000.5 764.4 L1000.6 765.5 L1000 801.1 L1000.2 803 L1001 804.9 L1002.2 806.6 L1003.9 808.3 L1006 809.8 L1008.5 811 L1011.4 812 L1014.4 812.8 L1017.6 813.3 L1021 813.4 L1077 813.8 L1082.8 814.1 L1088.4 815.1 L1093.6 816.7 L1098.1 818.9 L1200.9 878.2 L1205.9 881.6 L1209.9 885.4 L1212.8 889.4 L1214.6 893.7 L1215.2 898.1 L1214.6 902.5 L1212.8 906.8 L1209.9 910.8 L1205.9 914.6 L1200.9 918 L1041.1 1010.2 L1032.9 1014.3 L1023.7 1017.5 L1013.7 1019.9 L1003.2 1021.4 L992.5 1021.8 L981.7 1021.4 L971.2 1019.9 L961.2 1017.5 L952 1014.3 L943.8 1010.2 L943.8 1010.2 L936.8 1005.5 L931.1 1000.1 L927 994.4 L924.5 988.3 L923.6 982.1 L924.5 975.9 L927 969.8 L931.1 964.1 L936.8 958.7 L943.8 954 L1017.8 911.2 L1020 909.8 L1021.7 908.2 L1023 906.4 L1023.8 904.5 L1024 902.6 L1023.8 900.7 L1023 898.8 L1021.7 897 L1020 895.4 L1017.8 894 L997.5 882.2 L995 881 L992.1 880 L989.1 879.2 L985.8 878.8 L982.5 878.6 L979.2 878.8 L976 879.2 L972.9 880 L970.1 881 L967.5 882.2 L899.1 921.7 L891.8 925.3 L883.7 928.2 L874.9 930.3 L865.6 931.6 L856.1 932 L846.5 931.6 L837.3 930.3 L828.4 928.2 L820.3 925.3 L813 921.7 L813 921.7 L806.8 917.5 L801.8 912.8 L798.2 907.7 L795.9 902.3 L795.2 896.9 L795.9 891.4 L798.2 886 L801.8 880.9 L806.8 876.2 L813 872 L878 834.5 L880.1 833 L881.9 831.4 L883.1 829.6 L883.9 827.8 L884.2 825.9 L883.9 823.9 L883.1 822.1 L881.9 820.3 L880.1 818.7 L878 817.2 L851.6 802 L849 800.7 L846.2 799.7 L843.1 799 L839.9 798.5 L836.6 798.4 L833.3 798.5 L830 799 L827 799.7 L824.1 800.7 L821.6 802 L746.7 845.2 L738.8 849.1 L729.9 852.3 L720.3 854.6 L710.1 856 L699.7 856.4 L689.4 856 L679.2 854.6 L669.6 852.3 L660.7 849.1 L652.8 845.2Z" fill="none" stroke="#1a1a1a" stroke-width="1.8" />
<path d="M660.8 847.3 L655.2 843.5 L650.6 839.2 L647.3 834.6 L645.3 829.8 L644.6 824.8 L645.3 819.8 L647.3 815 L650.6 810.4 L655.2 806.1 L660.8 802.3 L823.2 708.5 L827.9 706.2 L833.2 704.3 L839 702.9 L845.1 702.1 L851.3 701.8 L857.5 702.1 L863.6 702.9 L869.4 704.3 L874.7 706.2 L879.4 708.5 L989.2 771.9 L989.2 771.9 L989.3 772 L989.3 772 L989.3 772.1 L989.4 772.2 L988.7 807.7 L989.1 810.6 L990.2 813.5 L992.1 816.2 L994.7 818.8 L998 821 L1001.8 822.9 L1006.1 824.5 L1010.8 825.7 L1015.8 826.4 L1020.8 826.6 L1076.9 827 L1080.5 827.2 L1084 827.8 L1087.3 828.8 L1090.1 830.2 L1192.9 889.5 L1196.8 892.1 L1199.8 895 L1202.1 898.1 L1203.4 901.4 L1203.9 904.8 L1203.4 908.2 L1202.1 911.5 L1199.8 914.6 L1196.8 917.5 L1192.9 920 L1033.2 1012.3 L1026.3 1015.7 L1018.6 1018.4 L1010.2 1020.4 L1001.5 1021.6 L992.5 1022 L983.5 1021.6 L974.7 1020.4 L966.3 1018.4 L958.6 1015.7 L951.8 1012.3 L951.8 1012.3 L945.9 1008.3 L941.2 1003.9 L937.7 999.1 L935.6 994 L934.9 988.8 L935.6 983.6 L937.7 978.5 L941.2 973.7 L945.9 969.3 L951.8 965.3 L1025.8 922.5 L1029.1 920.3 L1031.8 917.8 L1033.7 915.1 L1034.9 912.2 L1035.3 909.3 L1034.9 906.4 L1033.7 903.5 L1031.8 900.8 L1029.1 898.3 L1025.8 896 L1005.5 884.3 L1001.6 882.4 L997.2 880.9 L992.5 879.7 L987.6 879 L982.5 878.8 L977.4 879 L972.5 879.7 L967.8 880.9 L963.4 882.4 L959.6 884.3 L891.1 923.8 L885.2 926.7 L878.6 929.1 L871.4 930.8 L863.8 931.8 L856.1 932.2 L848.3 931.8 L840.7 930.8 L833.6 929.1 L826.9 926.7 L821 923.8 L821 923.8 L815.9 920.4 L811.9 916.5 L808.9 912.4 L807.1 908 L806.5 903.5 L807.1 899.1 L808.9 894.7 L811.9 890.6 L815.9 886.7 L821 883.3 L885.9 845.8 L889.3 843.6 L891.9 841.1 L893.9 838.3 L895.1 835.5 L895.5 832.5 L895.1 829.6 L893.9 826.8 L891.9 824 L889.3 821.5 L885.9 819.3 L859.5 804 L855.7 802.1 L851.3 800.6 L846.6 799.5 L841.7 798.8 L836.6 798.6 L831.5 798.8 L826.6 799.5 L821.8 800.6 L817.5 802.1 L813.6 804 L738.7 847.3 L732.1 850.5 L724.8 853.2 L716.8 855.1 L708.4 856.2 L699.7 856.6 L691.1 856.2 L682.7 855.1 L674.7 853.2 L667.4 850.5 L660.8 847.3Z" fill="none" stroke="#1a1a1a" stroke-width="1.8" />
<path d="M664.3 846.3 L659.2 842.9 L655.1 839 L652.1 834.8 L650.3 830.4 L649.7 825.9 L650.3 821.4 L652.1 817 L655.1 812.8 L659.2 808.9 L664.3 805.5 L826.7 711.7 L830.9 709.7 L835.5 708 L840.6 706.8 L845.9 706.1 L851.3 705.8 L856.7 706.1 L862.1 706.8 L867.1 708 L871.7 709.7 L875.9 711.7 L984.3 774.3 L983.7 808.8 L984.1 812.2 L985.4 815.5 L987.6 818.6 L990.6 821.5 L994.4 824.1 L998.8 826.4 L1003.8 828.2 L1009.2 829.5 L1014.9 830.3 L1020.8 830.6 L1076.8 831 L1079.5 831.1 L1082.1 831.6 L1084.5 832.3 L1086.6 833.3 L1189.4 892.7 L1192.7 894.9 L1195.3 897.4 L1197.3 900.1 L1198.5 903 L1198.9 905.9 L1198.5 908.8 L1197.3 911.7 L1195.3 914.4 L1192.7 916.9 L1189.4 919.1 L1029.6 1011.4 L1023.3 1014.4 L1016.3 1016.9 L1008.7 1018.8 L1000.7 1019.9 L992.5 1020.2 L984.2 1019.9 L976.2 1018.8 L968.6 1016.9 L961.6 1014.4 L955.3 1011.4 L955.3 1011.3 L950 1007.7 L945.6 1003.7 L942.5 999.3 L940.6 994.6 L939.9 989.9 L940.6 985.2 L942.5 980.5 L945.6 976.1 L950 972.1 L955.3 968.5 L1029.4 925.7 L1033.2 923.1 L1036.2 920.2 L1038.5 917.1 L1039.9 913.8 L1040.3 910.4 L1039.9 907 L1038.5 903.7 L1036.2 900.6 L1033.2 897.7 L1029.4 895.1 L1009 883.4 L1004.5 881.1 L999.5 879.4 L994.1 878.1 L988.4 877.3 L982.5 877 L976.6 877.3 L970.9 878.1 L965.5 879.4 L960.5 881.1 L956 883.4 L887.6 922.9 L882.3 925.5 L876.3 927.6 L869.8 929.1 L863 930.1 L856.1 930.4 L849.1 930.1 L842.3 929.1 L835.8 927.6 L829.9 925.5 L824.6 922.9 L824.5 922.8 L820 919.8 L816.3 916.3 L813.7 912.6 L812 908.7 L811.5 904.6 L812 900.6 L813.7 896.7 L816.3 893 L820 889.5 L824.5 886.5 L889.5 848.9 L893.3 846.4 L896.4 843.5 L898.6 840.3 L900 837 L900.5 833.6 L900 830.3 L898.6 827 L896.4 823.8 L893.3 820.9 L889.5 818.4 L863.1 803.1 L858.6 800.9 L853.6 799.1 L848.2 797.8 L842.4 797 L836.6 796.8 L830.7 797 L825 797.8 L819.6 799.1 L814.6 800.9 L810.1 803.1 L735.2 846.4 L729.2 849.3 L722.5 851.7 L715.2 853.4 L707.6 854.5 L699.7 854.8 L691.9 854.5 L684.3 853.4 L677 851.7 L670.3 849.3 L664.3 846.4Z" fill="none" stroke="#1a1a1a" stroke-width="1.8" />
<path d="M648.2 786.8 L652.8 791 L660.8 802.3 L664.3 805.5" fill="none" stroke="#1a1a1a" stroke-width="1.8" />
<path d="M810.6 693 L815.2 697.2 L823.2 708.5 L826.7 711.7" fill="none" stroke="#1a1a1a" stroke-width="1.8" />
<path d="M892 693 L887.4 697.2 L879.4 708.5 L875.9 711.7" fill="none" stroke="#1a1a1a" stroke-width="1.8" />
<path d="M1001.7 756.3 L997.1 760.6 L989.2 771.9 L984.3 774.3" fill="none" stroke="#1a1a1a" stroke-width="1.8" />
<path d="M1007.1 764 L1000.6 765.5 L989.4 772.2 L984.3 774.3" fill="none" stroke="#1a1a1a" stroke-width="1.8" />
<path d="M1006.5 799.5 L1000 801.1 L988.7 807.7 L983.7 808.8" fill="none" stroke="#1a1a1a" stroke-width="1.8" />
<path d="M1021 808.1 L1021 813.4 L1020.8 826.6 L1020.8 830.6" fill="none" stroke="#1a1a1a" stroke-width="1.8" />
<path d="M1077.1 808.4 L1077 813.8 L1076.9 827 L1076.8 831" fill="none" stroke="#1a1a1a" stroke-width="1.8" />
<path d="M1102.7 814.6 L1098.1 818.9 L1090.1 830.2 L1086.6 833.3" fill="none" stroke="#1a1a1a" stroke-width="1.8" />
<path d="M1205.5 874 L1200.9 878.2 L1192.9 889.5 L1189.4 892.7" fill="none" stroke="#1a1a1a" stroke-width="1.8" />
<path d="M1205.5 919 L1200.9 918 L1192.9 920 L1189.4 919.1" fill="none" stroke="#1a1a1a" stroke-width="1.8" />
<path d="M1045.7 1011.3 L1041.1 1010.2 L1033.2 1012.3 L1029.6 1011.4" fill="none" stroke="#1a1a1a" stroke-width="1.8" />
<path d="M939.2 949.8 L943.8 954 L951.8 965.3 L955.3 968.5" fill="none" stroke="#1a1a1a" stroke-width="1.8" />
<path d="M1013.2 907 L1017.8 911.2 L1025.8 922.5 L1029.4 925.7" fill="none" stroke="#1a1a1a" stroke-width="1.8" />
<path d="M1013.2 895 L1017.8 894 L1025.8 896 L1029.4 895.1" fill="none" stroke="#1a1a1a" stroke-width="1.8" />
<path d="M992.9 883.2 L997.5 882.2 L1005.5 884.3 L1009 883.4" fill="none" stroke="#1a1a1a" stroke-width="1.8" />
<path d="M972.1 883.2 L967.5 882.2 L959.6 884.3 L956 883.4" fill="none" stroke="#1a1a1a" stroke-width="1.8" />
<path d="M903.7 922.8 L899.1 921.7 L891.1 923.8 L887.6 922.9" fill="none" stroke="#1a1a1a" stroke-width="1.8" />
<path d="M808.4 867.8 L813 872 L821 883.3 L824.5 886.5" fill="none" stroke="#1a1a1a" stroke-width="1.8" />
<path d="M873.4 830.2 L878 834.5 L885.9 845.8 L889.5 848.9" fill="none" stroke="#1a1a1a" stroke-width="1.8" />
<path d="M873.4 818.2 L878 817.2 L885.9 819.3 L889.5 818.4" fill="none" stroke="#1a1a1a" stroke-width="1.8" />
<path d="M847 803 L851.6 802 L859.5 804 L863.1 803.1" fill="none" stroke="#1a1a1a" stroke-width="1.8" />
<path d="M826.2 803 L821.6 802 L813.6 804 L810.1 803.1" fill="none" stroke="#1a1a1a" stroke-width="1.8" />
<path d="M751.3 846.3 L746.7 845.2 L738.7 847.3 L735.2 846.4" fill="none" stroke="#1a1a1a" stroke-width="1.8" />
<path d="M688.4 322.3L1846 992.5" fill="none" stroke="#1a1a1a" stroke-width="3.3" />
<path d="M856 157L1206 360" fill="none" stroke="#1a1a1a" stroke-width="3.7" />
<path d="M1258 391L1331 432" fill="none" stroke="#1a1a1a" stroke-width="3.7" />
<path d="M1490 524L2011 825" fill="none" stroke="#1a1a1a" stroke-width="3.7" />
<path d="M949.7 105.7L1448.3 392.2" fill="none" stroke="#1a1a1a" stroke-width="1.8" />
<path d="M951.1 103.3L1449.7 389.8" fill="none" stroke="#1a1a1a" stroke-width="1.8" />
<path d="M1590 471.5L2101 766" fill="none" stroke="#1a1a1a" stroke-width="4.2" />
<path d="M1800 592.6L2098 764.3" fill="none" stroke="#fff" stroke-width="0.6" />
<path d="M108 803L306.2 594C313 586.8 324.5 577.4 331.8 573.1L345 565.4L576 430C580.3 427.4 584.7 421.5 585.8 416.6L592.8 386.2C594.1 380.9 599 374.2 603.7 371.5L688.4 322.3L856 155L951 103L1040.1 65.1C1044.7 63.2 1052.1 63.3 1056.6 65.3L1065.7 69.5C1071.7 72.3 1080.5 70.7 1085.2 66.1L1115.5 36.6C1122.2 30 1134.6 27.9 1143.1 31.8L1400 150L1474.8 184.6C1484.8 189.2 1500.8 197.5 1510.4 202.9L1719 322.1C1733.3 330.3 1756 344.8 1769.5 354.3L1984.6 505.5C1993.6 511.8 2008.4 522.1 2017.4 528.4L2040 544L2073.5 565.6C2080.9 570.3 2085.3 580.5 2083.2 588.1L2079.5 602L2070.5 635.1C2069.1 640.5 2071.4 647.7 2075.6 651.2L2085.8 659.6C2090.8 663.8 2095.5 672.3 2096.2 678.6L2097.4 690L2105.7 765.5C2106 768.3 2104.2 771.6 2101.9 773L2060 797L2011 825L1846 993L1770 1034C1759.3 1039.7 1740.7 1045.4 1728.7 1046.5L1673.9 1051.8C1671.1 1052.1 1666.9 1053.4 1664.5 1054.7L1500 1146L1420 1190.3C1401.8 1200.4 1370.5 1214 1350.6 1220.4L1200 1269L1014 1329" fill="none" stroke="#1a1a1a" stroke-width="5.0" stroke-linejoin="round"/>
<path d="M345 565.4L576 430C580.3 427.4 584.7 421.5 585.8 416.6L592.8 386.2C594.1 380.9 599 374.2 603.7 371.5L688.4 322.3L856 155L951 103L1040.1 65.1C1044.7 63.2 1052.1 63.3 1056.6 65.3L1065.7 69.5C1071.7 72.3 1080.5 70.7 1085.2 66.1L1115.5 36.6C1122.2 30 1134.6 27.9 1143.1 31.8L1400 150" fill="none" stroke="#1a1a1a" stroke-width="6.0" stroke-linejoin="round" stroke-linecap="round"/>
<path d="M1014 1329L86.8 792.9" fill="none" stroke="#1a1a1a" stroke-width="5.4" stroke-linecap="round"/>
<path d="M1400 150L1474.8 184.6C1484.8 189.2 1500.8 197.5 1510.4 202.9L1719 322.1C1733.3 330.3 1756 344.8 1769.5 354.3L1984.6 505.5C1993.6 511.8 2008.4 522.1 2017.4 528.4L2040 544L2073.5 565.6C2080.9 570.3 2085.3 580.5 2083.2 588.1L2079.5 602" fill="none" stroke="#1a1a1a" stroke-width="6.6" stroke-linejoin="round" stroke-linecap="round"/>
<path d="M2079.5 602L2070.5 635.1C2069.1 640.5 2071.4 647.7 2075.6 651.2L2085.8 659.6C2090.8 663.8 2095.5 672.3 2096.2 678.6L2097.4 690" fill="none" stroke="#1a1a1a" stroke-width="7.6" stroke-linejoin="round" stroke-linecap="round"/>
<path d="M2097.4 690L2105.7 765.5C2106 768.3 2104.2 771.6 2101.9 773L2060 797L2011 825" fill="none" stroke="#1a1a1a" stroke-width="8.8" stroke-linejoin="round" stroke-linecap="round"/>
<path d="M2011 825L1846 993" fill="none" stroke="#1a1a1a" stroke-width="8.2" stroke-linejoin="round" stroke-linecap="round"/>
<path d="M1846 993L1770 1034C1759.3 1039.7 1740.7 1045.4 1728.7 1046.5L1673.9 1051.8C1671.1 1052.1 1666.9 1053.4 1664.5 1054.7L1500 1146" fill="none" stroke="#1a1a1a" stroke-width="7.5" stroke-linejoin="round" stroke-linecap="round"/>
<path d="M1500 1146L1420 1190.3C1401.8 1200.4 1370.5 1214 1350.6 1220.4L1200 1269" fill="none" stroke="#1a1a1a" stroke-width="7.0" stroke-linejoin="round" stroke-linecap="round"/>
<path d="M1200 1269L1014 1329" fill="none" stroke="#1a1a1a" stroke-width="6.6" stroke-linejoin="round" stroke-linecap="round"/>
<path d="M86.8 792.9L63.9 816.8C54.8 826.3 56.6 839.6 68 846.3L201.4 925.1C207.1 928.5 216.4 928.5 222.1 925.2L262.8 901.7C266.9 899.3 272.1 900.7 274.4 904.8L274.4 904.8C276.7 908.9 275.2 914 271.1 916.3L236.2 935.3C232.4 937.4 232.3 940.9 236.1 943.1L683.4 1201.2C688.2 1204 696 1204 700.8 1201.2L742.6 1177.2C746.6 1175 751.7 1176.3 754.1 1180.2L754.1 1180.2C756.5 1184.1 755.2 1189.1 751.2 1191.4L715.4 1211.7C711.5 1213.9 711.5 1217.5 715.4 1219.7L872.5 1308.9C883 1314.9 901.2 1317.3 912.9 1314.2L961.6 1301.2" fill="none" stroke="#1a1a1a" stroke-width="6.8" stroke-linejoin="round" stroke-linecap="round"/>
<path d="M1335.6 430.2C1332.8 428.4 1332.7 425.5 1335.4 423.6L1386.5 388.4C1392.8 384.1 1403.8 380.3 1411 380L1416 379.8C1420.4 379.6 1427.1 381.3 1430.9 383.5L1437.9 387.5C1444.5 391.4 1455.2 390.9 1461.5 386.5L1466.5 383C1472.8 378.6 1481.2 369.6 1485 362.9L1505.8 327.2C1511.4 317.7 1523.8 314.3 1533.4 319.7L1619.1 367.6C1631.6 374.6 1636 390.5 1629 402.9L1590 471.5L1520 510.4C1508.4 516.8 1493.6 521.1 1487 520L1480.9 519C1477.7 518.4 1472.7 516.6 1469.9 514.8Z" fill="none" stroke="#1a1a1a" stroke-width="6.8" stroke-linejoin="round"/>
<path d="M1205.8 360.6L1237.1 339.2C1245.3 333.6 1259.2 332.8 1267.9 337.5L1299.9 354.5C1307.6 358.6 1307.6 365.3 1299.8 369.4L1258.4 390.8Z" fill="none" stroke="#1a1a1a" stroke-width="6.4" stroke-linejoin="round"/>
<path d="M1205.8 360.6L1237.1 339.2C1245.3 333.6 1259.1 332.8 1267.9 337.5L1299.9 354.5" fill="none" stroke="#1a1a1a" stroke-width="7.6" stroke-linejoin="round" stroke-linecap="round"/>
<path d="M576.3 479.2L606.7 461.6A8.4 4.8 0 0 0 594.7 454.8L564.3 472.4A8.4 4.8 0 0 0 576.3 479.2Z" fill="none" stroke="#1a1a1a" stroke-width="7.2" />
<path d="M1304.8 407.2L1335.2 389.6A8.4 4.8 0 0 0 1323.2 382.8L1292.8 400.4A8.4 4.8 0 0 0 1304.8 407.2Z" fill="none" stroke="#1a1a1a" stroke-width="7.2" />
<path d="M1554.8 550.2L1585.2 532.6A8.4 4.8 0 0 0 1573.2 525.8L1542.8 543.4A8.4 4.8 0 0 0 1554.8 550.2Z" fill="none" stroke="#1a1a1a" stroke-width="7.2" />
<path d="M1602.8 1063L1633.2 1045.4A8.4 4.8 0 0 0 1621.2 1038.6L1590.8 1056.2A8.4 4.8 0 0 0 1602.8 1063Z" fill="none" stroke="#1a1a1a" stroke-width="7.2" />
<path d="M907.3 303L932.8 278.3A8.5 6.7 0 0 0 919.6 269.9L894.1 294.6A8.5 6.7 0 0 0 907.3 303Z" fill="none" stroke="#1a1a1a" stroke-width="6.9" />
<path d="M1826.5 833.9L1852.1 809A8.5 6.7 0 0 0 1838.9 800.6L1813.3 825.5A8.5 6.7 0 0 0 1826.5 833.9Z" fill="none" stroke="#1a1a1a" stroke-width="6.9" />
<path d="M965.8 408.6L1055.8 356.7A18.2 14.3 0 0 0 1034.2 333.7L944.2 385.6A18.2 14.3 0 0 0 965.8 408.6Z" fill="none" stroke="#1a1a1a" stroke-width="7.4" />
<path d="M1040.9 452.4L1130.4 400.4A18.2 14.3 0 0 0 1108.8 377.4L1019.3 429.4A18.2 14.3 0 0 0 1040.9 452.4Z" fill="none" stroke="#1a1a1a" stroke-width="7.4" />
<path d="M1623.8 780.3L1666.6 694.7A18.1 11.7 0 0 0 1632.2 687.5L1589.4 773.1A18.1 11.7 0 0 0 1623.8 780.3Z" fill="none" stroke="#1a1a1a" stroke-width="7.2" />
<path d="M1699.2 822.8L1741.8 738.2A18.1 11.7 0 0 0 1707.4 731L1664.8 815.6A18.1 11.7 0 0 0 1699.2 822.8Z" fill="none" stroke="#1a1a1a" stroke-width="7.2" />
<ellipse cx="968" cy="392" rx="20" ry="13.5" fill="none" stroke="#1a1a1a" stroke-width="6"/>
<ellipse cx="968" cy="396" rx="11" ry="10" fill="#1a1a1a" stroke="none" stroke-width="0"/>
<ellipse cx="183.2" cy="890.7" rx="12.7" ry="8.6" fill="#1a1a1a" stroke="none" stroke-width="0"/>
<ellipse cx="183.2" cy="891.2" rx="3.2" ry="1.2" fill="#fff" stroke="none" stroke-width="0"/>
<ellipse cx="797.5" cy="1245" rx="12.7" ry="8.6" fill="#1a1a1a" stroke="none" stroke-width="0"/>
<ellipse cx="797.5" cy="1245.5" rx="3.2" ry="1.2" fill="#fff" stroke="none" stroke-width="0"/>
<ellipse cx="837" cy="723" rx="14.3" ry="8.7" fill="#1a1a1a" stroke="none" stroke-width="0"/>
<ellipse cx="837" cy="723.3" rx="6.5" ry="2.3" fill="#fff" stroke="none" stroke-width="0"/>
<ellipse cx="964" cy="842.8" rx="14.3" ry="8.7" fill="#1a1a1a" stroke="none" stroke-width="0"/>
<ellipse cx="964" cy="843.1" rx="6.5" ry="2.3" fill="#fff" stroke="none" stroke-width="0"/>
<ellipse cx="1130.8" cy="938.6" rx="14.3" ry="8.7" fill="#1a1a1a" stroke="none" stroke-width="0"/>
<ellipse cx="1130.8" cy="938.9" rx="6.5" ry="2.3" fill="#fff" stroke="none" stroke-width="0"/>
<ellipse cx="693.6" cy="410.6" rx="40.4" ry="27.5" fill="#fff" stroke="#1a1a1a" stroke-width="6"/>
<path d="M657.3 410.6A36.3 16 0 0 0 729.9 410.6" fill="none" stroke="#1a1a1a" stroke-width="1.9"/>
<path d="M662.2 422.6A38 21 0 0 0 725 422.6" fill="none" stroke="#1a1a1a" stroke-width="1.9"/>
<ellipse cx="694" cy="402" rx="22.4" ry="14" fill="#fff" stroke="#1a1a1a" stroke-width="6.6"/>
<path d="M670.6 401.6l7 -6 9 9 -1 5 -8 3 -9 -5z" fill="#1a1a1a"/>
<path d="M685.6 406.6q18 4 30 -8" fill="none" stroke="#1a1a1a" stroke-width="1.6"/>
<ellipse cx="501" cy="1058" rx="40.4" ry="27.5" fill="#fff" stroke="#1a1a1a" stroke-width="6"/>
<path d="M464.7 1058A36.3 16 0 0 0 537.3 1058" fill="none" stroke="#1a1a1a" stroke-width="1.9"/>
<path d="M469.6 1070A38 21 0 0 0 532.4 1070" fill="none" stroke="#1a1a1a" stroke-width="1.9"/>
<ellipse cx="501.4" cy="1049.4" rx="22.4" ry="14" fill="#fff" stroke="#1a1a1a" stroke-width="6.6"/>
<ellipse cx="501" cy="1047" rx="17" ry="8.5" fill="none" stroke="#1a1a1a" stroke-width="1.8"/>
<path d="M492 1053l8 -9 9 6 -2 9 -7 2z" fill="#1a1a1a"/>
<ellipse cx="1688.6" cy="985.6" rx="40.4" ry="27.5" fill="#fff" stroke="#1a1a1a" stroke-width="6"/>
<path d="M1652.3 985.6A36.3 16 0 0 0 1724.9 985.6" fill="none" stroke="#1a1a1a" stroke-width="1.9"/>
<path d="M1657.2 997.6A38 21 0 0 0 1720 997.6" fill="none" stroke="#1a1a1a" stroke-width="1.9"/>
<ellipse cx="1689" cy="977" rx="22.4" ry="14" fill="#fff" stroke="#1a1a1a" stroke-width="6.6"/>
<ellipse cx="1689.6" cy="975.6" rx="16" ry="8" fill="none" stroke="#1a1a1a" stroke-width="1.8"/>
<path d="M1666.6 971.6l10 -8 4 12 -8 6z" fill="#1a1a1a"/>
<ellipse cx="263.6" cy="995.8" rx="21.2" ry="13.5" fill="#fff" stroke="#1a1a1a" stroke-width="6.4"/>
<ellipse cx="263.6" cy="994.8" rx="11" ry="8" fill="#1a1a1a" stroke="none" stroke-width="0"/>
<ellipse cx="264" cy="1053" rx="15" ry="12.2" fill="#1a1a1a" stroke="none" stroke-width="0"/>
<g>
<path d="M253.3 1148V1085.3A10 7 0 0 1 273.3 1085.3V1148z" fill="#1a1a1a"/>
<ellipse cx="263.3" cy="1148" rx="15.3" ry="12.3" fill="#1a1a1a" stroke="none" stroke-width="0"/>
<rect x="259.8" y="1098.3" width="7" height="45.7" fill="#fff"/>
<path d="M263.3 1098.3V1144" stroke="#8c8c8c" stroke-width="1.6"/>
</g>
<ellipse cx="742.5" cy="1266.5" rx="21.2" ry="13.5" fill="#fff" stroke="#1a1a1a" stroke-width="6.4"/>
<ellipse cx="742.5" cy="1265.5" rx="11" ry="8" fill="#1a1a1a" stroke="none" stroke-width="0"/>
<ellipse cx="742" cy="1322.5" rx="15" ry="12.2" fill="#1a1a1a" stroke="none" stroke-width="0"/>
<g>
<path d="M732 1417V1356A10 7 0 0 1 752 1356V1417z" fill="#1a1a1a"/>
<ellipse cx="742" cy="1417" rx="15.3" ry="12.3" fill="#1a1a1a" stroke="none" stroke-width="0"/>
<rect x="738.5" y="1369" width="7" height="44" fill="#fff"/>
<path d="M742 1369V1413" stroke="#8c8c8c" stroke-width="1.6"/>
</g>
<ellipse cx="1622" cy="1133" rx="21.2" ry="13.5" fill="#fff" stroke="#1a1a1a" stroke-width="6.4"/>
<ellipse cx="1622" cy="1132" rx="11" ry="8" fill="#1a1a1a" stroke="none" stroke-width="0"/>
<ellipse cx="1622" cy="1190" rx="15" ry="12.2" fill="#1a1a1a" stroke="none" stroke-width="0"/>
<g>
<path d="M1612 1284V1221A10 7 0 0 1 1632 1221V1284z" fill="#1a1a1a"/>
<ellipse cx="1622" cy="1284" rx="15.3" ry="12.3" fill="#1a1a1a" stroke="none" stroke-width="0"/>
<rect x="1618.5" y="1234" width="7" height="46" fill="#fff"/>
<path d="M1622 1234V1280" stroke="#8c8c8c" stroke-width="1.6"/>
</g>
<rect x="585.5" y="1151" width="19" height="51" fill="#1a1a1a"/>
<rect x="592" y="1155" width="6" height="43" fill="#fff"/>
<path d="M595 1155V1198" stroke="#8c8c8c" stroke-width="1.6"/>
<ellipse cx="595" cy="1206" rx="16.5" ry="12.5" fill="#1a1a1a" stroke="none" stroke-width="0"/>
<rect x="1313.5" y="1232" width="19" height="55" fill="#1a1a1a"/>
<rect x="1320" y="1236" width="6" height="47" fill="#fff"/>
<path d="M1323 1236V1283" stroke="#8c8c8c" stroke-width="1.6"/>
<ellipse cx="1323" cy="1291" rx="16.5" ry="12.5" fill="#1a1a1a" stroke="none" stroke-width="0"/>
<ellipse cx="1578" cy="1110" rx="12" ry="8" fill="#1a1a1a" stroke="none" stroke-width="0"/>
<g>
<path d="M1563.5 1201V1138A10 7 0 0 1 1583.5 1138V1201z" fill="#1a1a1a"/>
<ellipse cx="1573.5" cy="1201" rx="15.3" ry="12.3" fill="#1a1a1a" stroke="none" stroke-width="0"/>
<rect x="1570" y="1151" width="7" height="46" fill="#fff"/>
<path d="M1573.5 1151V1197" stroke="#8c8c8c" stroke-width="1.6"/>
</g>
<path d="M1552 1190l7 -5 8 14 -7 5z" fill="#1a1a1a"/>
<ellipse cx="1923" cy="1019" rx="21.2" ry="13.5" fill="#fff" stroke="#1a1a1a" stroke-width="6.4"/>
<ellipse cx="1923" cy="1018" rx="11" ry="8" fill="#1a1a1a" stroke="none" stroke-width="0"/>
<ellipse cx="1940.5" cy="1063" rx="14.5" ry="14" fill="#1a1a1a" stroke="none" stroke-width="0"/>
<g transform="rotate(-19 1950 1083)">
<path d="M1940 1138V1090A10 7 0 0 1 1960 1090V1138z" fill="#1a1a1a"/>
<ellipse cx="1950" cy="1138" rx="15.3" ry="12.3" fill="#1a1a1a" stroke="none" stroke-width="0"/>
<rect x="1946.5" y="1103" width="7" height="31" fill="#fff"/>
<path d="M1950 1103V1134" stroke="#8c8c8c" stroke-width="1.6"/>
</g>
<polygon points="199.5,815.3 280.7,771.7 300.8,783.8 300.8,793.8 219.7,839.5 199.5,826.3" fill="#1a1a1a"/>
<polygon points="209.3,816.6 279.8,777.7 290.3,784.2 219.7,823.8" fill="#fff"/>
<polygon points="252.5,792.3 267.5,784.3 275.5,790.3 273.5,800.3 259.5,803.3" fill="#1a1a1a"/>
<path d="M223.5 832.8L292.5 794.3 M206.5 827.3L216.5 832.8" stroke="#fff" stroke-width="1"/>
<polygon points="268.4,794.3 283.1,794.3 283.1,840.8 278.5,844.4 268.4,837.5" fill="#1a1a1a"/>
<polygon points="679,1090.8 760.2,1047.2 780.3,1059.3 780.3,1069.3 699.2,1115 679,1101.8" fill="#1a1a1a"/>
<polygon points="688.8,1092.1 759.3,1053.2 769.8,1059.7 699.2,1099.3" fill="#fff"/>
<polygon points="732,1067.8 747,1059.8 755,1065.8 753,1075.8 739,1078.8" fill="#1a1a1a"/>
<path d="M703 1108.3L772 1069.8 M686 1102.8L696 1108.3" stroke="#fff" stroke-width="1"/>
<polygon points="747.9,1069.8 762.6,1069.8 762.6,1116.3 758,1119.9 747.9,1113" fill="#1a1a1a"/>
<path d="M688 280.7L962 395" fill="none" stroke="#1a1a1a" stroke-width="2.0" />
<path d="M342 370L669 405" fill="none" stroke="#1a1a1a" stroke-width="2.0" />
<path d="M342 370L1660 965.5" fill="none" stroke="#1a1a1a" stroke-width="2.0" />
<path d="M342 370L497 1047" fill="none" stroke="#1a1a1a" stroke-width="2.0" />
<path d="M72 1322L257.5 1096" fill="none" stroke="#1a1a1a" stroke-width="2.0" />
<path d="M72 1322L733 1360" fill="none" stroke="#1a1a1a" stroke-width="2.0" />
<path d="M1659 1424L1334 1294" fill="none" stroke="#1a1a1a" stroke-width="2.0" />
<path d="M1659 1424L1560 1199" fill="none" stroke="#1a1a1a" stroke-width="2.0" />
<path d="M1804 1113L1645 1133" fill="none" stroke="#1a1a1a" stroke-width="2.0" />
<path d="M2070 1190L1981 1134" fill="none" stroke="#1a1a1a" stroke-width="2.0" />
<path d="M622 67.7L688.5 67.7" fill="none" stroke="#1a1a1a" stroke-width="2.0" />
<path d="M622 138.7L688.5 138.7" fill="none" stroke="#1a1a1a" stroke-width="2.0" />
<path d="M622 210L688.5 210" fill="none" stroke="#1a1a1a" stroke-width="2.0" />
<path d="M622 280.7L688.5 280.7" fill="none" stroke="#1a1a1a" stroke-width="2.0" />
<path d="M688.5 66.9L688.5 281.5" fill="none" stroke="#1a1a1a" stroke-width="2.0" />
<path d="M276 370L342.5 370" fill="none" stroke="#1a1a1a" stroke-width="2.0" />
<path d="M6 1322L72.5 1322" fill="none" stroke="#1a1a1a" stroke-width="2.0" />
<path d="M6 1393L72.5 1393" fill="none" stroke="#1a1a1a" stroke-width="2.0" />
<path d="M6 1465L72.5 1465" fill="none" stroke="#1a1a1a" stroke-width="2.0" />
<path d="M6 1536L72.5 1536" fill="none" stroke="#1a1a1a" stroke-width="2.0" />
<path d="M72.5 1321.2L72.5 1536.8" fill="none" stroke="#1a1a1a" stroke-width="2.0" />
<path d="M1659 1210L1725.5 1210" fill="none" stroke="#1a1a1a" stroke-width="2.0" />
<path d="M1659 1282L1725.5 1282" fill="none" stroke="#1a1a1a" stroke-width="2.0" />
<path d="M1659 1353L1725.5 1353" fill="none" stroke="#1a1a1a" stroke-width="2.0" />
<path d="M1659 1424L1725.5 1424" fill="none" stroke="#1a1a1a" stroke-width="2.0" />
<path d="M1659 1209.2L1659 1424.8" fill="none" stroke="#1a1a1a" stroke-width="2.0" />
<path d="M1804 1113L1870.5 1113" fill="none" stroke="#1a1a1a" stroke-width="2.0" />
<path d="M1804 1184L1870.5 1184" fill="none" stroke="#1a1a1a" stroke-width="2.0" />
<path d="M1804 1255L1870.5 1255" fill="none" stroke="#1a1a1a" stroke-width="2.0" />
<path d="M1804 1112.2L1804 1255.8" fill="none" stroke="#1a1a1a" stroke-width="2.0" />
<path d="M2070 1190L2136.5 1190" fill="none" stroke="#1a1a1a" stroke-width="2.0" />
<path d="M2070 1261L2136.5 1261" fill="none" stroke="#1a1a1a" stroke-width="2.0" />
<path d="M2070 1332L2136.5 1332" fill="none" stroke="#1a1a1a" stroke-width="2.0" />
<path d="M2070 1403L2136.5 1403" fill="none" stroke="#1a1a1a" stroke-width="2.0" />
<path d="M2070 1189.2L2070 1403.8" fill="none" stroke="#1a1a1a" stroke-width="2.0" />
<g><text transform="translate(650.5 61.7) skewX(-4) scale(0.99 1)">6</text>
<text transform="translate(650.5 132.7) skewX(-4) scale(0.99 1)">5</text>
<text transform="translate(650.5 204) skewX(-4) scale(0.99 1)">4</text>
<text transform="translate(650.5 274.7) skewX(-4) scale(0.99 1)">3</text>
<text transform="translate(304.5 364) skewX(-4) scale(0.99 1)">2</text>
<text transform="translate(39.5 1316) skewX(-4) scale(0.99 1)">1</text>
<text transform="translate(34.5 1387) skewX(-4) scale(0.99 1)">5</text>
<text transform="translate(34.5 1459) skewX(-4) scale(0.99 1)">4</text>
<text transform="translate(34.5 1530) skewX(-4) scale(0.99 1)">3</text>
<text transform="translate(1687.5 1204) skewX(-4) scale(0.99 1)">6</text>
<text transform="translate(1687.5 1276) skewX(-4) scale(0.99 1)">5</text>
<text transform="translate(1687.5 1347) skewX(-4) scale(0.99 1)">4</text>
<text transform="translate(1687.5 1418) skewX(-4) scale(0.99 1)">3</text>
<text transform="translate(1832.5 1107) skewX(-4) scale(0.99 1)">5</text>
<text transform="translate(1832.5 1178) skewX(-4) scale(0.99 1)">4</text>
<text transform="translate(1832.5 1249) skewX(-4) scale(0.99 1)">3</text>
<text transform="translate(2098.5 1184) skewX(-4) scale(0.99 1)">6</text>
<text transform="translate(2098.5 1255) skewX(-4) scale(0.99 1)">5</text>
<text transform="translate(2098.5 1326) skewX(-4) scale(0.99 1)">4</text>
<text transform="translate(2098.5 1397) skewX(-4) scale(0.99 1)">3</text></g>
</svg></body></html>
